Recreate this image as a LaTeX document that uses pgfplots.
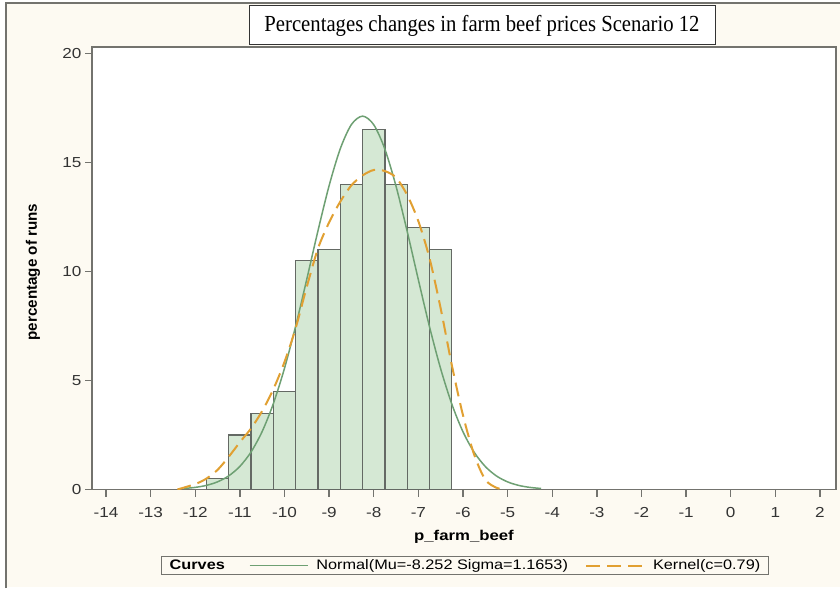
\documentclass[border=0pt]{standalone}
\usepackage{pgfplots}
\pgfplotsset{compat=1.18}
\usepackage{fontspec}
\setmainfont{Liberation Sans}
\newfontfamily\sasfont[FakeStretch=1.18]{Liberation Sans}
\newfontfamily\ylabfont{Liberation Sans}
\newfontfamily\titlefont[FakeStretch=0.9]{Liberation Serif}
\definecolor{bg}{RGB}{253,250,242}
\definecolor{barfill}{RGB}{213,232,212}
\definecolor{baredge}{RGB}{100,105,100}
\definecolor{normgreen}{RGB}{110,160,115}
\definecolor{kernorange}{RGB}{225,160,50}
\definecolor{axisgray}{RGB}{115,115,110}
\begin{document}
\begin{tikzpicture}[x=1pt,y=1pt]
\path[use as bounding box] (0,0) rectangle (840,589);
\fill[white] (0,0) rectangle (840,589);
\fill[bg] (6,2) rectangle (840,586);
\draw[axisgray, line width=2pt] (6,1) -- (6,586) -- (841,586);
\begin{axis}[
  at={(92pt,99.5pt)}, anchor=south west,
  width=744pt, height=442.5pt, scale only axis,
  xmin=-14.314, xmax=2.359, ymin=0, ymax=20.29,
  axis background/.style={fill=white},
  axis line style={draw=axisgray, line width=1.4pt},
  xtick={-14,-13,...,2}, ytick={0,5,10,15,20},
  tick align=outside, tick pos=left, major tick length=7pt,
  tick style={draw=axisgray, line width=1.3pt},
  /pgf/number format/assume math mode=true,
  ticklabel style={font=\sasfont\fontsize{14.5}{17}\selectfont, text=black!80},
  xticklabel style={yshift=-7pt},
  xlabel={p\_farm\_beef},
  xlabel style={at={(axis description cs:0.5,0)}, anchor=center, yshift=-47.5pt, font=\sasfont\bfseries\fontsize{14.2}{17}\selectfont},
  legend style={at={(axis description cs:0.5013,-0.1718)}, anchor=center, draw=axisgray, line width=1.3pt, fill=none,
    font=\sasfont\fontsize{13.8}{16}\selectfont, legend columns=-1, inner xsep=6pt, inner ysep=1pt,
    /tikz/every even column/.append style={column sep=15pt}},
  legend image code/.code={\draw[#1] (0pt,0pt) -- (58pt,0pt); \path (64pt,0pt);},
]
\addplot[ybar interval, fill=barfill, draw=baredge, line width=1.3pt, forget plot] coordinates {
(-11.75,0.5) (-11.25,2.5) (-10.75,3.5) (-10.25,4.5) (-9.75,10.5) (-9.25,11)
(-8.75,14) (-8.25,16.5) (-7.75,14) (-7.25,12) (-6.75,11) (-6.25,11)};
\addlegendimage{empty legend}
\addlegendentry{\bfseries Curves\kern7pt}
\addplot[normgreen, line width=1.5pt, smooth] coordinates {
(-12.25,0.048) (-12.0,0.097) (-11.75,0.189) (-11.5,0.352) (-11.25,0.625)
(-11.0,1.061) (-10.75,1.719) (-10.5,2.662) (-10.25,3.937) (-10.0,5.559)
(-9.75,7.493) (-9.5,9.649) (-9.25,11.864) (-9.0,13.934) (-8.75,15.625)
(-8.5,16.736) (-8.25,17.12) (-8.0,16.725) (-7.75,15.603) (-7.5,13.902)
(-7.25,11.828) (-7.0,9.613) (-6.75,7.459) (-6.5,5.530) (-6.25,3.914)
(-6.0,2.645) (-5.75,1.708) (-5.5,1.053) (-5.25,0.620) (-5.0,0.349)
(-4.75,0.187) (-4.5,0.096) (-4.25,0.047)};
\addlegendentry{Normal(Mu=-8.252 Sigma=1.1653)}
\addplot[kernorange, line width=2pt, dash pattern=on 14pt off 7pt, smooth] coordinates {
(-12.4,0.0) (-12.0,0.25) (-11.75,0.5) (-11.5,0.9) (-11.25,1.5) (-11.0,2.17)
(-10.75,2.8) (-10.5,3.6) (-10.25,4.6) (-10.0,5.85) (-9.75,7.4) (-9.5,9.3)
(-9.25,11.05) (-9.0,12.25) (-8.75,13.2) (-8.5,13.95) (-8.25,14.4) (-8.0,14.65)
(-7.75,14.6) (-7.5,14.3) (-7.25,13.5) (-7.0,12.3) (-6.75,10.6) (-6.5,8.3)
(-6.25,5.7) (-6.0,3.4) (-5.75,1.6) (-5.5,0.45) (-5.25,0.08) (-5.1,0.0)};
\addlegendentry{Kernel(c=0.79)}
\end{axis}
\node[rotate=90, font=\ylabfont\bfseries\fontsize{15.2}{18}\selectfont] at (33,317) {percentage of runs};
\node[draw=black!80, line width=1pt, fill=white, minimum width=466pt, minimum height=39pt, inner sep=0pt] at (482,563.5)
  {\titlefont\fontsize{23}{27}\selectfont Percentages changes in farm beef prices Scenario 12};
\end{tikzpicture}
\end{document}
